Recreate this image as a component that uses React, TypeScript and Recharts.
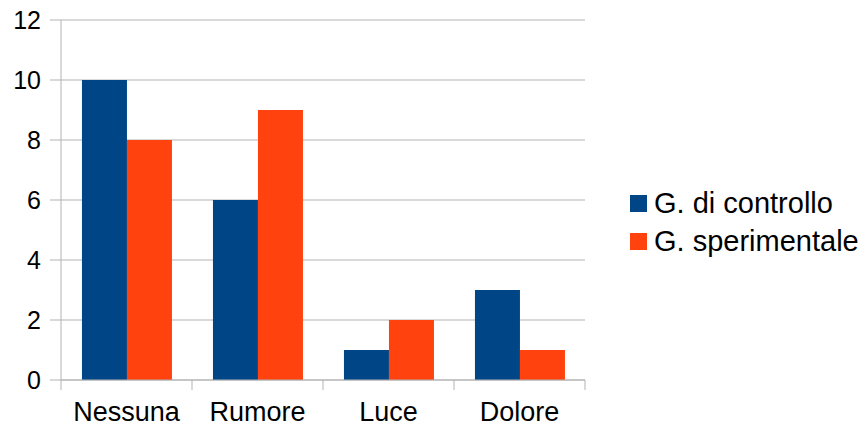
import React from 'react';
import { BarChart, Bar, XAxis, YAxis, CartesianGrid } from 'recharts';

const categories = ['Nessuna', 'Rumore', 'Luce', 'Dolore'];
const controllo = [10, 6, 1, 3];
const sperimentale = [8, 9, 2, 1];
const yTicks = [0, 2, 4, 6, 8, 10, 12];

const seriesNames = ['G. di controllo', 'G. sperimentale'];
const colors = ['#004586', '#ff420e'];
const gridColor = '#b3b3b3';
const font = '"Liberation Sans", Arial, sans-serif';

const data = categories.map((name, i) => ({
  name,
  controllo: controllo[i],
  sperimentale: sperimentale[i],
}));

// category label plus a tick mark on the left edge of its band (and the right edge for the last one)
const CategoryTick = (props: any) => {
  const { x, y, payload, index } = props;
  const half = payload.offset ?? 65.5;
  const last = index === categories.length - 1;
  return (
    <g>
      <line x1={x - half} x2={x - half} y1={y - 8} y2={y + 2} stroke={gridColor} strokeWidth={1} />
      {last && <line x1={x + half} x2={x + half} y1={y - 8} y2={y + 2} stroke={gridColor} strokeWidth={1} />}
      <text x={x} y={y + 33} textAnchor="middle" fontSize={27} fill="#000" fontFamily={font}>
        {payload.value}
      </text>
    </g>
  );
};

const Legend = () => (
  <div
    style={{
      position: 'absolute',
      left: 630,
      top: 184,
      fontFamily: font,
      fontSize: 29,
      color: '#000',
      whiteSpace: 'nowrap',
    }}
  >
    {seriesNames.map((n, i) => (
      <div key={n} style={{ display: 'flex', alignItems: 'center', height: 38 }}>
        <span style={{ width: 17, height: 17, background: colors[i], marginRight: 7, flexShrink: 0 }} />
        <span>{n}</span>
      </div>
    ))}
  </div>
);

export default function App() {
  return (
    <div style={{ position: 'absolute', left: 0, top: 0, width: 860, height: 428, background: '#fff' }}>
      <BarChart
        width={860}
        height={428}
        data={data}
        margin={{ top: 20, right: 275, left: 0, bottom: 18 }}
        barCategoryGap="16%"
        barGap={0}
      >
        <CartesianGrid vertical={false} stroke={gridColor} />
        <XAxis
          dataKey="name"
          height={30}
          axisLine={{ stroke: gridColor }}
          tickLine={false}
          tick={<CategoryTick />}
          interval={0}
        />
        <YAxis
          domain={[0, 12]}
          ticks={yTicks}
          width={61}
          axisLine={{ stroke: gridColor }}
          tickLine={{ stroke: gridColor }}
          tickSize={11}
          tickMargin={9}
          tick={{ fontSize: 25, fill: '#000', fontFamily: font }}
        />
        <YAxis
          yAxisId="right"
          orientation="right"
          width={0}
          tick={false}
          tickLine={false}
          axisLine={{ stroke: gridColor }}
        />
        <Bar dataKey="controllo" fill={colors[0]} isAnimationActive={false} />
        <Bar dataKey="sperimentale" fill={colors[1]} isAnimationActive={false} />
      </BarChart>
      <Legend />
    </div>
  );
}
